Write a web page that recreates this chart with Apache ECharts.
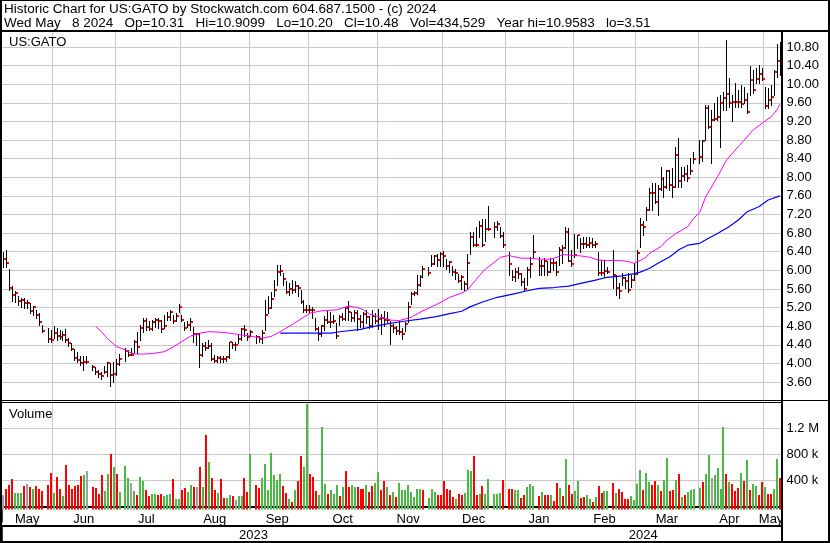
<!DOCTYPE html>
<html><head><meta charset="utf-8">
<script src="https://cdn.jsdelivr.net/npm/echarts@6/dist/echarts.min.js"></script>
<style>html,body{margin:0;padding:0;background:#fff}#c{width:830px;height:543px}</style>
</head><body><div id="c"></div>
<script>
// ---------- DATA ----------
const headerLine1 = 'Historic Chart for US:GATO by Stockwatch.com 604.687.1500 - (c) 2024';
const headerLine2 = 'Wed May   8 2024   Op=10.31   Hi=10.9099   Lo=10.20   Cl=10.48   Vol=434,529   Year hi=10.9583   lo=3.51';
const symbolLabel = 'US:GATO';
const volumeTitle = 'Volume';
const firstDay = '2023-05-09', lastDay = '2024-05-08';   // weekday slots; holidays are null

const high = [
6.40,6.43,6.02,5.66,5.56,5.44,5.40,5.40,5.36,5.29,
5.24,5.15,5.08,4.83,null,4.75,4.72,4.80,4.75,4.72,
4.70,4.73,4.54,4.43,4.31,4.25,4.15,4.16,4.15,null,
3.96,3.93,3.86,3.82,3.95,4.02,4.00,4.04,4.10,4.20,
null,4.33,4.29,4.32,4.50,4.68,4.82,4.97,4.97,4.90,
4.93,4.97,4.97,4.93,5.04,5.11,5.15,5.04,5.08,5.28,
5.04,4.88,4.90,4.97,4.79,4.65,4.65,4.43,4.47,4.50,
4.43,4.18,4.16,4.15,4.15,4.16,4.47,4.47,4.45,4.61,
4.75,4.83,4.65,4.72,null,4.61,4.58,4.72,5.36,5.44,
5.54,5.79,6.12,6.12,5.94,5.76,5.72,5.79,5.76,5.69,
5.58,5.36,5.26,5.26,5.22,4.97,4.79,4.83,5.01,5.15,
5.11,5.04,4.86,5.04,5.08,5.22,5.33,5.11,5.15,5.15,
5.04,5.11,5.15,5.01,5.15,5.08,5.17,5.06,5.13,5.10,
4.92,4.85,4.81,4.92,4.77,4.88,5.31,5.53,5.56,5.89,
5.89,6.10,null,6.07,6.32,6.32,6.35,6.39,6.42,6.25,
6.21,6.10,6.03,5.92,5.89,5.78,6.35,6.82,6.82,6.93,
7.07,7.11,7.11,7.39,null,7.03,7.07,6.93,6.82,null,
6.40,6.01,6.04,6.08,5.94,5.83,6.08,6.29,6.76,null,
6.29,6.22,6.26,6.19,6.26,6.26,6.19,6.51,6.54,6.94,
6.90,6.44,6.79,6.76,6.69,6.72,6.72,6.72,6.69,6.62,
6.40,6.22,6.22,6.08,null,6.44,5.90,5.72,5.94,5.86,
5.94,5.90,6.15,6.44,7.12,7.05,7.37,7.76,7.87,7.87,
7.83,8.23,8.01,8.16,8.16,8.19,8.66,8.84,8.23,8.23,
8.26,8.41,8.55,null,8.80,8.80,9.55,9.55,9.45,9.59,
9.73,9.77,9.84,10.96,10.13,9.77,10.02,9.88,9.98,9.95,
9.80,10.38,10.31,10.34,10.41,10.34,9.95,9.91,9.98,10.30,
10.87,10.91];
const low = [
6.08,6.07,5.58,5.35,5.31,5.26,5.22,5.18,5.18,5.09,
5.04,4.97,4.83,4.68,null,4.47,4.45,4.54,4.50,4.52,
4.50,4.47,4.38,4.29,4.07,4.04,3.97,3.86,4.00,null,
3.86,3.77,3.71,3.67,3.79,3.72,3.51,3.59,3.75,3.96,
null,4.06,4.15,4.18,4.22,4.23,4.50,4.68,4.72,4.72,
4.72,4.79,4.75,4.68,4.75,4.93,4.93,4.86,4.90,5.11,
4.90,4.72,4.79,4.72,4.47,4.40,3.92,4.15,4.29,4.33,
4.07,4.04,4.04,4.02,4.03,4.06,4.11,4.33,4.29,4.43,
4.50,4.58,4.50,4.58,null,4.43,4.45,4.43,4.72,5.08,
5.19,5.44,5.69,5.90,5.69,5.51,5.47,5.51,5.54,5.44,
5.30,5.11,5.11,5.08,4.97,4.72,4.50,4.58,4.72,4.86,
4.79,4.86,4.54,4.83,4.93,4.93,4.93,4.90,4.90,4.72,
4.79,4.79,4.86,4.75,4.79,4.86,4.74,4.63,4.81,4.88,
4.41,4.67,4.63,4.63,4.52,4.70,4.88,5.28,5.46,5.49,
5.67,5.85,null,5.89,6.10,6.14,6.10,6.10,6.10,6.03,
5.96,5.89,5.81,5.74,5.60,5.56,5.60,6.35,6.53,6.53,
6.71,6.53,6.64,6.86,null,6.71,6.86,6.71,6.50,null,
5.90,5.79,5.76,5.83,5.68,5.58,5.68,5.86,6.26,null,
5.90,5.90,5.90,5.90,5.97,6.01,5.90,6.11,6.15,6.47,
6.19,6.10,6.29,6.47,6.40,6.47,6.51,6.51,6.51,6.51,
5.90,5.90,5.86,5.94,null,5.61,5.47,5.40,5.68,5.61,
5.54,5.65,5.79,5.92,6.51,6.76,7.08,7.30,7.30,7.44,
7.19,7.73,7.58,7.76,7.73,7.58,7.80,7.80,7.80,7.94,
7.91,8.08,8.30,null,8.30,8.34,8.80,9.05,8.30,9.23,
9.23,8.66,9.45,9.45,9.52,9.20,9.52,9.52,9.52,9.59,
9.37,9.77,9.80,10.02,10.02,10.09,9.48,9.48,9.55,9.77,
10.15,10.20];
const close = [
6.24,6.15,5.61,5.48,5.52,5.35,5.37,5.29,5.29,5.13,
5.21,5.05,4.88,4.70,null,4.53,4.51,4.65,4.58,4.56,
4.60,4.51,4.43,4.31,4.11,4.08,4.00,4.03,4.04,null,
3.92,3.82,3.77,3.72,3.82,4.00,3.74,3.77,3.99,4.09,
null,4.26,4.17,4.19,4.46,4.35,4.75,4.90,4.79,4.73,
4.88,4.94,4.92,4.73,4.81,4.99,5.10,4.92,5.02,5.21,
4.93,4.75,4.83,4.88,4.63,4.63,4.18,4.38,4.32,4.38,
4.10,4.06,4.12,4.10,4.10,4.13,4.45,4.40,4.40,4.53,
4.73,4.71,4.57,4.68,null,4.57,4.52,4.66,5.04,5.18,
5.39,5.58,5.97,5.99,5.82,5.54,5.59,5.58,5.66,5.61,
5.31,5.14,5.14,5.14,5.15,4.73,4.63,4.80,4.93,4.89,
4.89,4.90,4.58,5.00,4.96,5.18,5.10,4.98,5.08,4.96,
4.89,5.06,4.99,4.81,5.02,4.90,4.95,4.97,4.94,4.94,
4.81,4.76,4.70,4.67,4.63,4.85,5.22,5.49,5.52,5.69,
5.85,6.02,null,5.95,6.14,6.31,6.22,6.35,6.30,6.10,
6.17,5.97,5.95,5.77,5.85,5.71,6.16,6.71,6.55,6.55,
6.96,6.55,6.88,6.88,null,6.94,7.00,6.73,6.55,null,
6.13,5.85,5.97,5.91,5.74,5.60,6.01,6.14,6.39,null,
6.10,6.10,6.19,5.97,6.15,6.15,5.96,6.44,6.47,6.83,
6.21,6.13,6.33,6.75,6.57,6.57,6.54,6.59,6.54,6.57,
5.94,5.94,5.99,5.97,null,5.90,5.61,5.56,5.83,5.76,
5.58,5.80,5.92,6.38,6.97,6.94,7.30,7.67,7.67,7.47,
7.74,7.96,7.78,8.13,7.83,7.80,8.48,7.92,8.03,8.07,
7.99,8.14,8.39,null,8.43,8.77,9.48,9.07,9.23,9.25,
9.30,9.60,9.70,9.78,9.60,9.62,9.62,9.61,9.57,9.66,
9.40,10.09,9.88,10.11,10.21,10.11,9.53,9.65,9.73,10.27,
10.50,10.48];
// volume in thousands of shares
const volumeK = [
174,266,327,420,209,209,209,317,353,302,
266,312,266,235,null,327,512,215,451,266,
163,635,327,266,317,327,466,481,543,null,
297,286,194,481,235,497,815,604,497,220,
null,620,440,358,235,174,451,399,250,163,
189,199,174,189,163,184,199,420,112,112,
250,286,220,338,297,297,604,302,1097,681,
440,250,204,420,133,133,174,158,97,163,
163,445,225,815,null,327,281,435,661,250,
830,481,404,507,317,209,122,71,250,389,
774,604,1574,497,461,240,174,1220,343,189,
261,194,327,163,297,543,297,327,297,297,
266,276,338,220,317,358,527,261,389,302,
174,225,148,368,250,250,327,225,148,266,
266,250,null,133,276,225,184,184,389,276,
261,148,112,189,174,209,558,543,774,184,
194,317,199,420,null,194,194,209,404,null,
276,266,250,250,133,184,297,343,317,null,
163,225,184,184,174,81,363,286,163,727,
338,194,235,389,133,148,174,112,71,148,
317,215,235,235,null,358,215,266,225,112,
112,158,97,353,558,250,512,379,338,389,
327,235,404,748,235,261,404,497,148,184,
225,250,266,null,286,379,507,799,440,481,
594,276,1225,497,379,353,235,290,508,395,
712,251,343,312,174,379,302,200,200,271,
728,435];
// day direction: r = down, g = up, n = unchanged, - = no trading
const volDir =
'nrrrgggrnr'+'grrr-rrgrr'+'grrrrrrgn-'+'rrrrggrgrg'+'-ggngrggrr'+
'ggrrgggrgg'+'rrggrnrgrg'+'rrgrrggrng'+'grrg-rrggg'+'ggggrrgrgr'+
'rggrrrgggr'+'gggrgrrggr'+'rrgrrggrrg'+'rgrggggggg'+'gr-gggrrrr'+
'rrgrrgggrr'+'grgg-gggr-'+'rrggrrggg-'+'rgrrgrrgrg'+'rrggrrggrg'+
'rrgg-rgrrr'+'rggggrggrr'+'grggrrgrgr'+'ggg-grggng'+'gggrgrrrgr'+
'grggrrgrrg'+'gr';
// moving averages: [day slot, value]
const maFast = [[31,4.79],[33,4.68],[35,4.53],[38,4.36],[41,4.29],[43,4.22],[45,4.20],[47,4.20],[50,4.21],[54,4.25],
[57,4.35],[60,4.47],[63,4.59],[66,4.65],[69,4.68],[73,4.67],[76,4.65],[80,4.61],[83,4.59],[85,4.56],[87,4.54],[90,4.58],
[93,4.68],[97,4.83],[103,5.08],[107,5.13],[112,5.15],[116,5.23],[119,5.20],[121,5.15],[123,5.06],[127,4.99],[130,4.93],
[133,4.92],[137,4.99],[141,5.13],[146,5.28],[150,5.42],[154,5.51],[156,5.58],[160,5.89],[162,6.03],[165,6.17],[167,6.28],
[170,6.32],[171,6.30],[174,6.26],[177,6.26],[180,6.24],[184,6.24],[186,6.28],[188,6.34],[191,6.32],[194,6.31],[197,6.28],
[200,6.22],[203,6.21],[207,6.21],[210,6.19],[212,6.15],[214,6.21],[216,6.28],[217,6.36],[221,6.51],[223,6.65],[226,6.79],
[230,6.94],[232,7.12],[234,7.24],[236,7.58],[240,8.01],[243,8.37],[247,8.66],[249,8.80],[252,9.02],[255,9.16],[258,9.30],
[260,9.45],[261,9.57]];
const maSlow = [[93,4.65],[98,4.65],[105,4.65],[110,4.65],[113,4.68],[120,4.73],[124,4.79],[129,4.85],[134,4.90],[140,4.95],
[145,5.00],[150,5.07],[154,5.12],[157,5.22],[161,5.32],[166,5.42],[172,5.50],[176,5.56],[180,5.61],[185,5.63],[190,5.66],
[194,5.72],[199,5.79],[203,5.85],[208,5.88],[212,5.93],[214,5.96],[217,6.04],[220,6.15],[224,6.29],[227,6.44],[230,6.54],
[234,6.58],[237,6.69],[240,6.79],[244,6.94],[247,7.08],[250,7.26],[254,7.37],[257,7.51],[261,7.60]];
const monthLineDates = ['2023-06-01','2023-06-30','2023-08-01','2023-09-01','2023-09-29','2023-11-01','2023-12-01',
  '2024-01-01','2024-02-01','2024-03-01','2024-04-01','2024-05-01'];
const monthNames = ['May','Jun','Jul','Aug','Sep','Oct','Nov','Dec','Jan','Feb','Mar','Apr','May'];
const yearNames = ['2023','2024'];
const yearBreakDate = '2024-01-01';
const priceAxis = {min: 3.2, max: 11.13, step: 0.4};
const volAxis = {min: 0, max: 1600000, step: 400000};
const volTickLabels = {400000: '400 k', 800000: '800 k', 1200000: '1.2 M'};

// ---------- BUILD ----------
const dates = [];
for (let d = new Date(firstDay + 'T00:00:00Z'); d <= new Date(lastDay + 'T00:00:00Z'); d.setUTCDate(d.getUTCDate() + 1)) {
  const w = d.getUTCDay();
  if (w !== 0 && w !== 6) dates.push(d.toISOString().slice(0, 10));
}
const N = dates.length;
const lineIdx = monthLineDates.map(d => dates.indexOf(d));
const lineSet = new Set(lineIdx);
const bounds = [0, ...lineIdx, N];
const monthLabelAt = {};
monthNames.forEach((m, k) => { monthLabelAt[Math.floor((bounds[k] + bounds[k + 1] - 1) / 2)] = m; });
const yearIdx = dates.indexOf(yearBreakDate);
const yearLabelAt = {};
yearLabelAt[Math.floor((yearIdx - 1) / 2)] = yearNames[0];
yearLabelAt[Math.floor((yearIdx + N - 1) / 2)] = yearNames[1];

const ohlc = [];
const vol = [];
for (let i = 0; i < N; i++) {
  if (close[i] != null) ohlc.push([i, high[i], low[i], close[i]]);
  if (volumeK[i] != null) vol.push([i, volumeK[i] * 1000, {r: 0, g: 1, n: 2}[volDir[i]]]);
}
const volColors = ['#ff0000', '#4cb848', '#a0a0a0'];
const FF = '"Liberation Sans", Arial, sans-serif';
const GRID = '#c8c8c8';

const chart = echarts.init(document.getElementById('c'), null, {renderer: 'canvas'});
const txt = (x, y, t, fs) => ({type: 'text', x: x, y: y, silent: true, z: 101,
  style: {text: t, fontSize: fs || 13, fontFamily: FF, fill: '#000', verticalAlign: 'middle', align: 'left'}});
const ln = (x1, y1, x2, y2, w) => ({type: 'line', silent: true, z: 100,
  shape: {x1, y1, x2, y2}, style: {stroke: '#000', lineWidth: w}});

chart.setOption({
  animation: false,
  backgroundColor: '#fff',
  grid: [
    {left: 2, right: 48.5, top: 31.6, height: 369, outerBoundsMode: 'none'},
    {left: 2, right: 48.5, top: 402.5, height: 104, outerBoundsMode: 'none'}
  ],
  xAxis: [
    {type: 'category', gridIndex: 0, data: dates, boundaryGap: true,
     axisLine: {show: false}, axisTick: {show: false}, axisLabel: {show: false},
     splitLine: {show: true, interval: (i) => lineSet.has(i), lineStyle: {color: GRID, width: 1}}},
    {type: 'category', gridIndex: 1, data: dates, boundaryGap: true, position: 'bottom', offset: 3,
     axisLine: {show: true, lineStyle: {color: '#000', width: 2}},
     axisTick: {show: true, interval: (i) => i === yearIdx, length: 16, lineStyle: {color: '#000', width: 1.5}},
     axisLabel: {show: true, interval: (i) => monthLabelAt[i] !== undefined, formatter: (v, i) => monthLabelAt[i] || '',
       margin: 3, fontSize: 13, fontFamily: FF, color: '#000'},
     splitLine: {show: true, interval: (i) => lineSet.has(i), lineStyle: {color: GRID, width: 1}}},
    {type: 'category', gridIndex: 1, data: dates, boundaryGap: true, position: 'bottom', offset: 19,
     axisLine: {show: true, lineStyle: {color: '#000', width: 2}},
     axisTick: {show: true, interval: (i) => i === yearIdx, length: 17, lineStyle: {color: '#000', width: 1.5}},
     axisLabel: {show: true, interval: (i) => yearLabelAt[i] !== undefined, formatter: (v, i) => yearLabelAt[i] || '',
       margin: 3, fontSize: 13, fontFamily: FF, color: '#000'},
     splitLine: {show: false}}
  ],
  yAxis: [
    {type: 'value', gridIndex: 0, position: 'right', min: priceAxis.min, max: priceAxis.max, interval: priceAxis.step,
     axisLine: {show: false}, axisTick: {show: false},
     axisLabel: {margin: 5, fontSize: 13, fontFamily: FF, color: '#000', showMinLabel: false, showMaxLabel: false,
       formatter: (v) => v.toFixed(2)},
     splitLine: {show: true, lineStyle: {color: GRID, width: 1}}},
    {type: 'value', gridIndex: 1, position: 'right', min: volAxis.min, max: volAxis.max, interval: volAxis.step,
     axisLine: {show: false}, axisTick: {show: false},
     axisLabel: {margin: 5, fontSize: 13, fontFamily: FF, color: '#000', showMinLabel: false, showMaxLabel: false,
       formatter: (v) => volTickLabels[v] || ''},
     splitLine: {show: true, showMinLine: false, lineStyle: {color: GRID, width: 1}}}
  ],
  series: [
    {type: 'custom', name: 'price', xAxisIndex: 0, yAxisIndex: 0, clip: true, z: 2,
     encode: {x: 0, y: [1, 2, 3]}, data: ohlc,
     renderItem: (params, api) => {
       const i = api.value(0);
       const hi = api.coord([i, api.value(1)]);
       const lo = api.coord([i, api.value(2)]);
       const cl = api.coord([i, api.value(3)]);
       const x = Math.round(hi[0] - 0.5) + 0.5;
       return {type: 'group', children: [
         {type: 'line', shape: {x1: x, y1: Math.round(hi[1]), x2: x, y2: Math.round(lo[1]) + 1},
          style: {stroke: '#000', lineWidth: 1}},
         {type: 'rect', shape: {x: x + 0.5, y: Math.round(cl[1]) - 1, width: 2, height: 2},
          style: {fill: '#ff0000'}}
       ]};
     }},
    {type: 'line', name: 'maFast', xAxisIndex: 0, yAxisIndex: 0, data: maFast, showSymbol: false, z: 3,
     lineStyle: {color: '#ff00ff', width: 1}, itemStyle: {color: '#ff00ff'}},
    {type: 'line', name: 'maSlow', xAxisIndex: 0, yAxisIndex: 0, data: maSlow, showSymbol: false, z: 3,
     lineStyle: {color: '#0000ff', width: 1.2}, itemStyle: {color: '#0000ff'}},
    {type: 'custom', name: 'volume', xAxisIndex: 1, yAxisIndex: 1, clip: false, z: 2,
     encode: {x: 0, y: 1}, data: vol,
     renderItem: (params, api) => {
       const i = api.value(0);
       const top = api.coord([i, api.value(1)]);
       const cs = params.coordSys;
       const bottom = cs.y + cs.height + 3;
       const y = Math.round(top[1]);
       return {type: 'rect', shape: {x: Math.round(top[0]) - 1, y: y, width: 2, height: bottom - y},
         style: {fill: volColors[api.value(2)]}};
     }}
  ],
  graphic: {elements: [
    txt(4, 9, headerLine1, 13.5),
    txt(4, 23, headerLine2, 13.5),
    txt(9, 42, symbolLabel),
    txt(9, 414, volumeTitle),
    ln(0, 0.5, 830, 0.5, 1),
    ln(1, 0, 1, 543, 2),
    ln(829, 0, 829, 543, 2),
    ln(0, 542, 830, 542, 2),
    ln(0, 31, 830, 31, 2),
    ln(0, 400.5, 830, 400.5, 1),
    ln(0, 402.5, 782, 402.5, 1),
    ln(782, 31, 782, 543, 2)
  ]}
});
</script>
</body></html>
